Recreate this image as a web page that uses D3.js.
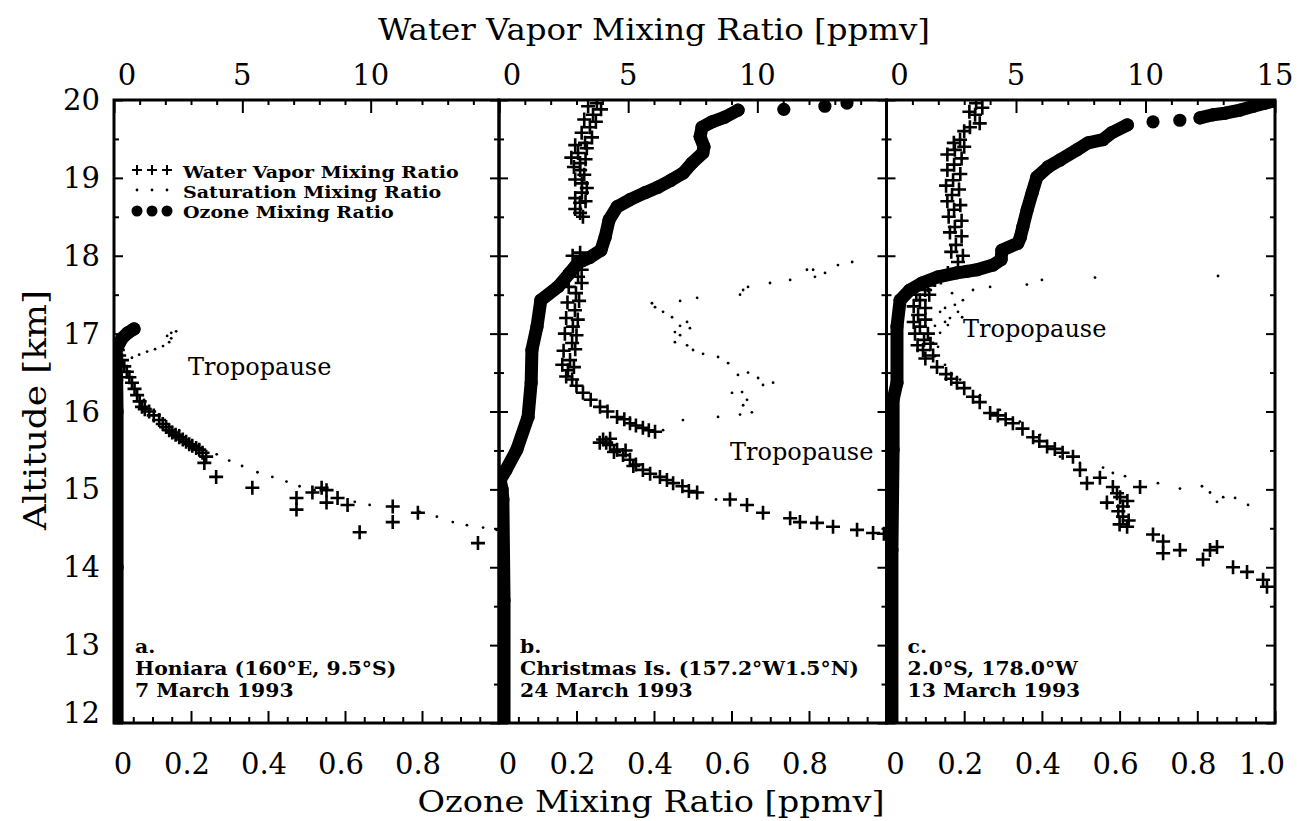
<!DOCTYPE html>
<html><head><meta charset="utf-8">
<script src="https://cdn.jsdelivr.net/npm/d3@7"></script>
<style>body{margin:0;background:#fff}svg{display:block}</style>
</head><body>
<svg id="chart" width="1304" height="821"></svg>
<script>
// ---------------- data ----------------
const altitudeTicks = [12, 13, 14, 15, 16, 17, 18, 19, 20];
const waterVaporTicksAB = [0, 5, 10];
const waterVaporTicksC = [0, 5, 10, 15];
const ozoneTicksAB = [0, 0.2, 0.4, 0.6, 0.8];
const ozoneTicksC = [0, 0.2, 0.4, 0.6, 0.8, 1.0];
const legendLabels = ["Water Vapor Mixing Ratio", "Saturation Mixing Ratio", "Ozone Mixing Ratio"];
const notesA = ["a.", "Honiara (160°E, 9.5°S)", "7 March 1993"];
const notesB = ["b.", "Christmas Is. (157.2°W1.5°N)", "24 March 1993"];
const notesC = ["c.", "2.0°S, 178.0°W", "13 March 1993"];
const tropopauseLabel = "Tropopause";

// [value, altitude km]
const ozoneA = [[0.008,12.0],[0.008,14.0],[0.008,16.0],[0.007,16.4],[0.005,16.66],[0.006,16.8],[0.021,16.94],[0.036,17.01],[0.052,17.06]];
const waterVaporA = [[0.1,16.82],[0.15,16.79],[0.2,16.72],[0.31,16.66],[0.4,16.58],[0.5,16.51],[0.6,16.44],[0.70,16.37],[0.8,16.29],[0.9,16.21],[1.0,16.13],[1.09,16.06],[1.2,16.03],[1.37,16.0],[1.55,15.95],[1.76,15.89],[1.9,15.84],[2.03,15.80],[2.15,15.76],[2.27,15.73],[2.4,15.70],[2.54,15.67],[2.68,15.64],[2.81,15.61],[2.93,15.58],[3.05,15.56],[3.2,15.53],[3.32,15.51],[3.45,15.47],[3.59,15.42],[3.52,15.34],[3.98,15.16],[5.39,15.02],[7.11,14.89],[7.11,14.74],[7.73,14.96],[8.09,15.02],[8.28,14.99],[8.28,14.83],[8.71,14.89],[9.10,14.80],[9.57,14.45],[10.86,14.78],[10.86,14.58],[11.84,14.70],[14.18,14.31]];
const saturationA = [[0.70,16.69],[0.98,16.73],[1.29,16.77],[1.6,16.80],[1.91,16.84],[2.15,16.89],[2.23,16.94],[2.07,16.97],[2.23,17.01],[2.42,17.03],[1.17,16.15],[1.76,15.96],[2.54,15.76],[3.32,15.57],[4.0,15.45],[4.49,15.37],[4.99,15.30],[5.59,15.22],[6.17,15.16],[6.72,15.10],[7.23,15.04],[7.81,14.99],[9.38,14.84],[9.96,14.80],[11.91,14.71],[12.58,14.65],[13.2,14.58],[13.75,14.54],[14.38,14.51],[14.9,14.48]];

const ozoneB = [[0.013,12.0],[0.013,13.58],[0.010,14.87],[0.008,15.0],[0.003,15.12],[0.018,15.25],[0.046,15.51],[0.075,15.93],[0.083,16.37],[0.085,16.79],[0.098,17.09],[0.108,17.43],[0.152,17.60],[0.183,17.78],[0.204,17.91],[0.235,17.98],[0.263,18.07],[0.274,18.24],[0.284,18.46],[0.305,18.63],[0.338,18.72],[0.377,18.81],[0.410,18.88],[0.444,18.97],[0.475,19.06],[0.498,19.19],[0.526,19.32],[0.529,19.40],[0.519,19.53],[0.524,19.65],[0.550,19.72],[0.583,19.78],[0.617,19.87],[0.735,19.88],[0.841,19.92],[0.898,19.96]];
const waterVaporB = [[3.79,19.96],[3.64,19.81],[3.52,19.65],[3.33,19.45],[3.06,19.32],[3.14,19.19],[3.14,19.10],[3.21,18.93],[3.21,18.81],[3.14,18.68],[3.14,18.55],
  [3.45,19.92],[3.95,19.88],[3.3,19.75],[3.75,19.72],[3.2,19.58],[3.6,19.52],[2.95,19.42],[3.4,19.38],[2.8,19.26],[3.35,19.24],[2.9,19.14],[3.3,19.04],[2.95,18.98],[3.4,18.87],[2.95,18.74],[3.35,18.7],[2.95,18.6],[3.25,18.5],
  [3.14,18.04],[3.06,17.88],[3.06,17.73],[2.98,17.52],[2.94,17.30],[2.86,17.09],[2.83,16.88],[2.75,16.66],[2.67,16.53],[2.83,16.41],
  [2.85,18.0],[3.3,17.95],[2.75,17.8],[3.2,17.82],[2.7,17.6],[3.2,17.65],[2.65,17.4],[3.1,17.42],[2.6,17.2],[3.05,17.18],[2.55,17.0],[3.0,16.98],[2.5,16.78],[2.95,16.8],[2.45,16.6],[2.9,16.57],[2.6,16.45],
  [3.0,16.33],[3.25,16.24],[3.55,16.15],[3.91,16.06],[4.2,16.0],[4.57,15.93],[4.85,15.9],[5.07,15.85],[5.3,15.82],[5.57,15.79],[5.8,15.76],[6.04,15.74],
  [3.9,15.6],[4.03,15.64],[4.3,15.65],[4.15,15.6],[4.30,15.57],[4.45,15.48],[4.57,15.51],[4.9,15.5],[4.80,15.44],[5.07,15.38],[5.2,15.3],[5.3,15.32],[5.57,15.25],[5.85,15.2],[6.23,15.16],[6.5,15.12],[6.74,15.08],[7.1,15.04],[7.35,14.98],[7.67,14.96],[8.94,14.87],[9.60,14.80],[10.22,14.70],[11.27,14.63],[11.65,14.58],[12.31,14.57],[12.93,14.52],[13.86,14.48],[14.48,14.44],[14.9,14.43]];
const saturationB = [[13.67,17.92],[13.12,17.88],[12.62,17.78],[12.16,17.82],[12.23,17.73],[11.92,17.82],[11.27,17.69],[10.49,17.65],[9.64,17.60],[9.45,17.56],[9.33,17.50],[7.67,17.46],[7.01,17.42],[5.92,17.39],[6.04,17.34],[6.35,17.28],[6.70,17.21],[7.28,17.15],[7.01,17.10],[7.39,17.07],[6.81,17.02],[7.01,16.98],[6.81,16.89],[7.28,16.85],[7.51,16.79],[7.90,16.74],[8.48,16.70],[8.87,16.62],[9.25,16.47],[9.64,16.50],[10.03,16.43],[10.22,16.34],[10.61,16.37],[9.02,16.24],[9.41,16.25],[9.60,16.15],[9.45,16.08],[9.79,15.99],[9.33,15.96],[8.48,15.93],[7.12,15.89],[6.35,15.76],[7.39,14.97],[8.4,14.87]];

const ozoneC = [[0.014,12.0],[0.014,14.22],[0.017,15.51],[0.017,16.15],[0.027,16.37],[0.027,17.09],[0.035,17.43],[0.060,17.56],[0.091,17.65],[0.133,17.73],[0.181,17.78],[0.207,17.80],[0.233,17.82],[0.274,17.88],[0.295,17.95],[0.297,18.07],[0.338,18.16],[0.344,18.23],[0.351,18.37],[0.362,18.59],[0.375,18.81],[0.387,19.01],[0.416,19.14],[0.447,19.23],[0.490,19.36],[0.519,19.45],[0.557,19.49],[0.580,19.58],[0.620,19.68],[0.686,19.72],[0.755,19.74],[0.807,19.77],[0.840,19.81],[0.871,19.83],[0.910,19.87],[0.944,19.92],[0.974,19.96],[1.0,19.99]];
const waterVaporC = [[3.46,19.96],[3.42,19.81],[3.22,19.65],[2.84,19.49],[2.64,19.36],[2.61,19.17],[2.57,18.97],[2.53,18.78],[2.61,18.59],[2.64,18.37],[2.68,18.14],[2.76,17.92],
  [3.0,19.6],[3.6,19.7],[3.2,19.85],[3.7,19.9],[2.6,19.45],[3.0,19.4],[2.35,19.3],[2.9,19.25],[2.35,19.1],[2.85,19.05],[2.3,18.9],[2.8,18.85],[2.35,18.7],[2.85,18.65],[2.4,18.5],[2.9,18.45],[2.45,18.3],[2.9,18.25],[2.5,18.05],[2.95,18.0],
  [2.37,17.78],[1.87,17.69],[1.49,17.56],[1.29,17.43],[1.22,17.24],[1.29,17.09],[1.45,16.92],[1.41,16.79],
  [1.6,17.62],[2.1,17.72],[1.15,17.5],[1.65,17.5],[1.05,17.35],[1.5,17.33],[1.05,17.15],[1.5,17.18],[1.1,17.0],[1.6,17.0],[1.2,16.85],[1.7,16.87],[1.5,16.68],[1.8,16.72],
  [1.95,16.57],[2.3,16.48],[2.5,16.42],[2.72,16.37],[3.0,16.3],[3.34,16.19],[3.6,16.12],[4.0,15.98],[4.3,15.95],[4.6,15.9],[4.88,15.85],[5.25,15.78],[5.66,15.67],[5.9,15.62],[6.20,15.55],[6.5,15.52],[6.8,15.47],
  [7.20,15.42],[7.47,15.25],[7.74,15.08],[8.24,15.15],[8.74,15.03],[9.02,14.90],[9.13,14.78],[9.13,14.65],[9.29,14.52],[8.51,14.83],[9.79,15.03],[8.9,14.95],[9.3,14.85],[8.95,14.72],[9.35,14.6],[9.0,14.55],
  [10.29,14.42],[10.68,14.33],[11.33,14.22],[10.68,14.18],[12.22,14.10],[12.49,14.22],[12.76,14.26],[13.38,14.0],[13.92,13.94],[14.54,13.84],[14.69,13.75]];
const saturationC = [[12.80,17.74],[8.05,17.72],[6.00,17.69],[5.42,17.63],[4.0,17.60],[3.34,17.56],[2.53,17.52],[2.95,17.43],[2.64,17.37],[2.26,17.33],[2.07,17.28],[2.76,17.28],[2.45,17.20],[2.92,17.21],[2.26,17.15],[1.87,17.10],[2.37,17.11],[2.07,17.01],[1.68,16.94],[1.80,16.88],[1.99,16.83],[1.68,16.79],[1.87,16.71],[2.26,16.60],[2.84,16.41],[3.61,16.21],[4.38,16.02],[5.15,15.87],[5.93,15.70],[6.70,15.42],[7.47,15.34],[8.36,15.28],[8.74,15.21],[9.21,15.17],[10.48,15.08],[11.33,15.01],[12.18,15.04],[12.49,14.96],[12.76,14.84],[13.0,14.90],[13.46,14.89],[13.96,14.80]];

// ---------------- layout ----------------
const svg = d3.select("#chart");
const plotTop = 100, plotBottom = 723;
const edges = [114, 499, 886.5, 1275];
const serif = "'DejaVu Serif', 'Liberation Serif', serif";
const y = d3.scaleLinear().domain([12, 20]).range([plotBottom, plotTop]);

const panels = [
  {oz: ozoneA, wv: waterVaporA, sat: saturationA, notes: notesA, wvTicks: waterVaporTicksAB, o3Ticks: ozoneTicksAB, trop: [188, 375]},
  {oz: ozoneB, wv: waterVaporB, sat: saturationB, notes: notesB, wvTicks: waterVaporTicksAB, o3Ticks: ozoneTicksAB, trop: [730, 460]},
  {oz: ozoneC, wv: waterVaporC, sat: saturationC, notes: notesC, wvTicks: waterVaporTicksC, o3Ticks: ozoneTicksC, trop: [963, 337]}
];

const crossPath = s => `M${-s},0H${s}M0,${-s}V${s}`;
const stretch = (sel, f) => sel.each(function () {
  const w = this.getComputedTextLength();
  d3.select(this).attr("textLength", w * f).attr("lengthAdjust", "spacingAndGlyphs");
});

panels.forEach((p, i) => {
  const x0 = edges[i], x1 = edges[i + 1];
  const xO3 = d3.scaleLinear().domain([0, 1]).range([x0, x1]);
  const xWV = d3.scaleLinear().domain([0, 15]).range([x0, x1]);
  const g = svg.append("g");
  const clipId = "clip" + i;
  svg.append("clipPath").attr("id", clipId).append("rect")
    .attr("x", x0).attr("y", plotTop).attr("width", x1 - x0).attr("height", plotBottom - plotTop);
  const data = g.append("g").attr("clip-path", `url(#${clipId})`);

  // ozone: thick line segments + dots
  const segs = [];
  let cur = [];
  p.oz.forEach((d, k) => {
    if (k > 0 && Math.abs(xO3(d[0]) - xO3(p.oz[k - 1][0])) > 19) { segs.push(cur); cur = []; }
    cur.push(d);
  });
  segs.push(cur);
  const line = d3.line().x(d => xO3(d[0])).y(d => y(d[1]));
  data.selectAll("path.oz").data(segs.filter(s => s.length > 1)).join("path")
    .attr("d", line).attr("fill", "none").attr("stroke", "#000")
    .attr("stroke-width", 13).attr("stroke-linejoin", "round").attr("stroke-linecap", "round");
  data.selectAll("circle.oz").data(p.oz).join("circle")
    .attr("cx", d => xO3(d[0])).attr("cy", d => y(d[1])).attr("r", 6.6).attr("fill", "#000");

  // saturation mixing ratio: small dots
  data.selectAll("circle.sat").data(p.sat).join("circle")
    .attr("cx", d => xWV(d[0])).attr("cy", d => y(d[1])).attr("r", 1.4).attr("fill", "#000");

  // water vapor: crosses
  data.selectAll("path.wv").data(p.wv).join("path")
    .attr("transform", d => `translate(${xWV(d[0])},${y(d[1])})`)
    .attr("d", crossPath(7)).attr("stroke", "#000").attr("stroke-width", 2.6).attr("fill", "none");

  // axes ticks (inward)
  const tickAxis = (axis, pos, values, size) => {
    const a = g.append("g").attr("transform", pos)
      .call(axis.tickValues(values).tickSize(size).tickFormat(""));
    a.select(".domain").remove();
    a.selectAll("line").attr("stroke", "#000").attr("stroke-width", 2);
  };
  const kmMinor = d3.range(12.5, 20, 1);
  tickAxis(d3.axisRight(y), `translate(${x0},0)`, altitudeTicks, 9);
  tickAxis(d3.axisRight(y), `translate(${x0},0)`, kmMinor, 5);
  tickAxis(d3.axisLeft(y), `translate(${x1},0)`, altitudeTicks, 9);
  tickAxis(d3.axisLeft(y), `translate(${x1},0)`, kmMinor, 5);
  tickAxis(d3.axisBottom(xWV), `translate(0,${plotTop})`, [0, 5, 10, 15], 13);
  tickAxis(d3.axisBottom(xWV), `translate(0,${plotTop})`, d3.range(1, 15).filter(v => v % 5), 5);
  tickAxis(d3.axisTop(xO3), `translate(0,${plotBottom})`, [0, 0.2, 0.4, 0.6, 0.8, 1.0], 12);
  tickAxis(d3.axisTop(xO3), `translate(0,${plotBottom})`, d3.range(1, 20).map(v => v / 20).filter((v, k) => (k + 1) % 4), 6);

  // frame
  g.append("rect").attr("x", x0).attr("y", plotTop).attr("width", x1 - x0).attr("height", plotBottom - plotTop)
    .attr("fill", "none").attr("stroke", "#000").attr("stroke-width", 3);

  // tick labels
  g.selectAll("text.top").data(p.wvTicks).join("text")
    .attr("x", d => xWV(d) + (d === 0 ? 13 : 0)).attr("y", 85)
    .attr("text-anchor", "middle").attr("font-family", serif).attr("font-size", 29).text(d => d);
  g.selectAll("text.bot").data(p.o3Ticks).join("text")
    .attr("x", d => xO3(d) + (d === 0 ? 9 : d === 1 ? -13 : -4)).attr("y", 774)
    .attr("text-anchor", "middle").attr("font-family", serif).attr("font-size", 29)
    .text(d => d === 0 ? "0" : d3.format(".1f")(d));

  // panel notes
  g.selectAll("text.note").data(p.notes).join("text")
    .attr("x", x0 + 21).attr("y", (d, k) => 653 + k * 22)
    .attr("font-family", serif).attr("font-weight", "bold").attr("font-size", 18.5)
    .text(d => d).call(stretch, 1.1);

  // tropopause
  g.append("text").attr("x", p.trop[0]).attr("y", p.trop[1])
    .attr("font-family", serif).attr("font-size", 24).text(tropopauseLabel);
});

// altitude labels
svg.selectAll("text.alt").data(altitudeTicks).join("text")
  .attr("x", 100).attr("y", d => y(d) + 10 - (d === 12 ? 10 : 0))
  .attr("text-anchor", "end").attr("font-family", serif).attr("font-size", 29).text(d => d);

// axis titles
svg.append("text").attr("x", 654).attr("y", 40).attr("text-anchor", "middle")
  .attr("font-family", serif).attr("font-size", 30).attr("textLength", 552).attr("lengthAdjust", "spacingAndGlyphs")
  .text("Water Vapor Mixing Ratio [ppmv]");
svg.append("text").attr("x", 651).attr("y", 812).attr("text-anchor", "middle")
  .attr("font-family", serif).attr("font-size", 30).attr("textLength", 467).attr("lengthAdjust", "spacingAndGlyphs")
  .text("Ozone Mixing Ratio [ppmv]");
svg.append("text").attr("transform", "translate(46,410) rotate(-90)").attr("text-anchor", "middle")
  .attr("font-family", serif).attr("font-size", 31).attr("textLength", 240).attr("lengthAdjust", "spacingAndGlyphs")
  .text("Altitude [km]");

// legend
const legY = [170, 190, 211];
const lg = svg.append("g");
[137, 152, 167].forEach(cx => {
  lg.append("path").attr("transform", `translate(${cx},${legY[0]})`).attr("d", crossPath(5))
    .attr("stroke", "#000").attr("stroke-width", 2);
  lg.append("circle").attr("cx", cx).attr("cy", legY[1]).attr("r", 1.4);
  lg.append("circle").attr("cx", cx).attr("cy", legY[2]).attr("r", 5.5);
});
lg.selectAll("text").data(legendLabels).join("text")
  .attr("x", 183).attr("y", (d, k) => 178 + k * 20)
  .attr("font-family", serif).attr("font-weight", "bold").attr("font-size", 17)
  .text(d => d).call(stretch, 1.12);
</script>
</body></html>
